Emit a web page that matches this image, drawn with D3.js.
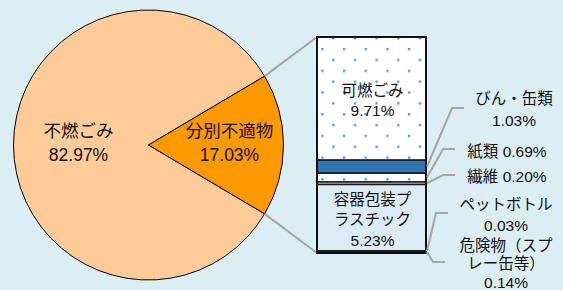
<!DOCTYPE html>
<html><head><meta charset="utf-8">
<script src="https://cdn.jsdelivr.net/npm/d3@7"></script>
<style>
body{margin:0;background:#DAEEF3;}
svg{display:block}
text{font-family:"Liberation Sans","Noto Sans CJK JP",sans-serif;fill:#111}
</style>
</head><body><svg id="c" width="563" height="290"></svg>
<script>
// ---- data ----
const pieCategories = ["不燃ごみ", "分別不適物"];
const pieValues = [82.97, 17.03];
const pieValueLabels = ["82.97%", "17.03%"];
const barCategories = ["可燃ごみ", "びん・缶類", "紙類", "繊維", "容器包装プラスチック", "ペットボトル", "危険物（スプレー缶等）"];
const barValues = [9.71, 1.03, 0.69, 0.20, 5.23, 0.03, 0.14];
const barLabelLines = [
  ["可燃ごみ", "9.71%"],
  ["びん・缶類", "1.03%"],
  ["紙類 0.69%"],
  ["繊維 0.20%"],
  ["容器包装プ", "ラスチック", "5.23%"],
  ["ペットボトル", "0.03%"],
  ["危険物（スプ", "レー缶等）", "0.14%"]
];

// ---- layout / style ----
const svg = d3.select("#c");
const W = 563, H = 290;
const cx = 148.5, cy = 145, R = 135;
const pieColors = ["#FFCC99", "#FF9900"];
const pieLabelRadius = [70, 81];
const barX0 = 317, barX1 = 426, barTop = 37, barBottom = 253;
const barFills = ["url(#dots)", "#2E75B6", "url(#dots)", "#D9D9D9", "#DDEBF7", "#7F7F7F", "#262626"];
const inside = [true, false, false, false, true, false, false];
const outLayout = {
  1: {tx: 514, ty: 98, lh: 22, elbow: [452, 108], end: [464, 108]},
  2: {tx: 507, ty: 151, lh: 20, elbow: [443, 149], end: [455, 149]},
  3: {tx: 507, ty: 176, lh: 20, elbow: [443, 175], end: [455, 175]},
  5: {tx: 506, ty: 204, lh: 21, elbow: [436, 213], end: [448, 213]},
  6: {tx: 506, ty: 245, lh: 18.5, elbow: [433, 262], end: [445, 262]}
};

const defs = svg.append("defs");
const pat = defs.append("pattern").attr("id", "dots").attr("patternUnits", "userSpaceOnUse")
  .attr("x", 332.1).attr("y", 37.1).attr("width", 21.67).attr("height", 21.7);
pat.append("rect").attr("width", 21.67).attr("height", 21.7).attr("fill", "#fff");
pat.append("rect").attr("x", 0).attr("y", 0).attr("width", 2.4).attr("height", 2.4).attr("fill", "#5B9BD5");
pat.append("rect").attr("x", 10.83).attr("y", 10.85).attr("width", 2.4).attr("height", 2.4).attr("fill", "#5B9BD5");

svg.append("rect").attr("width", W).attr("height", H).attr("fill", "#DAEEF3");

// ---- pie ----
const smallFrac = pieValues[1] / d3.sum(pieValues);
const start = Math.PI / 2 + Math.PI * smallFrac;
const pie = d3.pie().sort(null).startAngle(start).endAngle(start + 2 * Math.PI);
const arcs = pie(pieValues);
const arc = d3.arc().innerRadius(0).outerRadius(R);
const g = svg.append("g").attr("transform", `translate(${cx},${cy})`);

const small = arcs[1];
const yScale = d3.scaleLinear().domain([0, d3.sum(barValues)]).range([barTop, barBottom]);
const cornerA = [cx + R * Math.sin(small.startAngle), cy - R * Math.cos(small.startAngle)];
const cornerB = [cx + R * Math.sin(small.endAngle), cy - R * Math.cos(small.endAngle)];
svg.append("line").attr("x1", cornerA[0]).attr("y1", cornerA[1]).attr("x2", barX0).attr("y2", yScale(0))
  .attr("stroke", "#A6A6A6").attr("stroke-width", 2);
svg.append("line").attr("x1", cornerB[0]).attr("y1", cornerB[1]).attr("x2", barX0).attr("y2", yScale(d3.sum(barValues)))
  .attr("stroke", "#A6A6A6").attr("stroke-width", 2);

g.selectAll("path").data(arcs).join("path")
  .attr("d", arc).attr("fill", (d, i) => pieColors[i]).attr("stroke", "#000").attr("stroke-width", 1);

arcs.forEach((d, i) => {
  const c = d3.arc().innerRadius(pieLabelRadius[i]).outerRadius(pieLabelRadius[i]).centroid(d);
  const t = g.append("text").attr("text-anchor", "middle").style("font-size", "17.5px")
    .attr("x", c[0]).attr("y", c[1]);
  t.append("tspan").attr("x", c[0]).attr("dy", "-0.45em").text(pieCategories[i]);
  t.append("tspan").attr("x", c[0]).attr("dy", "1.37em").text(pieValueLabels[i]);
});

// ---- stacked bar ----
let cum = 0;
const segs = barValues.map((v, i) => { const s = {i, v, y0: cum, y1: cum + v}; cum += v; return s; });

const bg = svg.append("g");
bg.selectAll("rect").data(segs).join("rect")
  .attr("x", barX0).attr("width", barX1 - barX0)
  .attr("y", d => yScale(d.y0)).attr("height", d => yScale(d.y1) - yScale(d.y0))
  .attr("fill", d => barFills[d.i]).attr("stroke", "#1a1a1a").attr("stroke-width", 1.5);
bg.append("rect").attr("x", barX0).attr("y", barTop).attr("width", barX1 - barX0).attr("height", barBottom - barTop)
  .attr("fill", "none").attr("stroke", "#111").attr("stroke-width", 2);

segs.filter(d => inside[d.i]).forEach(d => {
  const lines = barLabelLines[d.i];
  const mid = (yScale(d.y0) + yScale(d.y1)) / 2 + 2;
  const lh = 20.5;
  const xm = (barX0 + barX1) / 2 + 1;
  lines.forEach((s, k) => {
    svg.append("text").attr("text-anchor", "middle").attr("dominant-baseline", "central")
      .style("font-size", "15.5px")
      .attr("x", xm).attr("y", mid + (k - (lines.length - 1) / 2) * lh).text(s);
  });
});

segs.filter(d => !inside[d.i]).forEach(d => {
  const L = outLayout[d.i];
  const ym = (yScale(d.y0) + yScale(d.y1)) / 2;
  svg.append("polyline")
    .attr("points", [[barX1 + 1, ym], L.elbow, L.end].map(p => p.join(",")).join(" "))
    .attr("fill", "none").attr("stroke", "#A6A6A6").attr("stroke-width", 2);
  barLabelLines[d.i].forEach((s, k) => {
    svg.append("text").attr("text-anchor", "middle").attr("dominant-baseline", "central")
      .style("font-size", "15.5px")
      .attr("x", L.tx).attr("y", L.ty + k * L.lh).text(s);
  });
});
</script>
</body></html>
